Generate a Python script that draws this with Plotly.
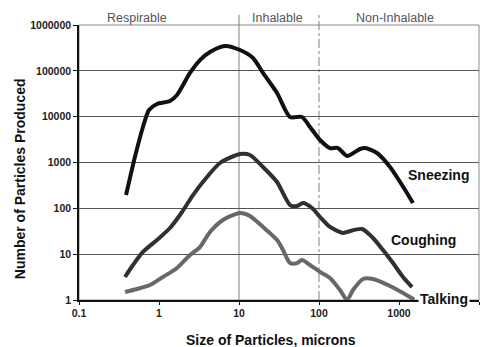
import math
import plotly.graph_objects as go

# ---------------- data ----------------
sneeze_x = [0.387, 0.50, 0.63, 0.75, 0.944, 1.37, 1.68, 2.44, 3.25, 4.34, 6.68, 10.3, 14.96,
            19.95, 29.9, 43.4, 61.3, 77.2, 103, 137, 173, 224, 325, 376, 531, 772, 1090, 1496]
sneeze_y = [195, 1320, 5960, 14000, 18900, 22000, 29700, 89800, 172000, 258000, 349000, 285000,
            191000, 89800, 32900, 9840, 9840, 5960, 3100, 2070, 2070, 1387, 1970, 2070, 1612,
            798, 323, 131]

cough_x = [0.376, 0.473, 0.63, 0.944, 1.37, 1.94, 2.66, 3.98, 5.79, 10.3, 13.7, 19.95, 29.9,
           43.4, 53.1, 63.1, 81.8, 103, 137, 200, 224, 345, 473, 631, 841, 1122, 1454]
cough_y = [3.18, 5.8, 11.2, 20.4, 37.2, 83.2, 195, 483, 975, 1535, 1460, 798, 376,
           118, 112, 131, 102, 64.7, 39.2, 29, 30.5, 35.4, 22.5, 12.3, 6.4, 3.18, 1.92]

talk_x = [0.376, 0.531, 0.772, 1.12, 1.68, 2.44, 3.25, 4.34, 6.31, 10.3, 13.7, 19.95, 29.9,
          35.5, 43.4, 53.1, 61.3, 77.2, 103, 137, 183, 224, 266, 355, 473, 772, 1122, 1550]
talk_y = [1.5, 1.74, 2.12, 3.18, 4.99, 9.6, 14.3, 30.5, 55.7, 79.1, 68.1, 39.2, 20.4,
          12.3, 6.4, 6.4, 7.46, 5.8, 4.08, 3.02, 1.65, 1.0, 1.65, 2.87, 2.87, 2.02, 1.42, 1.02]

series_names = ["Sneezing", "Coughing", "Talking"]
label_x = [3073, 1995, 3600]
label_y = [534, 20.4, 1.05]

x_ticks = [0.1, 1, 10, 100, 1000, 10000]
x_ticktext = ["0.1", "1", "10", "100", "1000", "10000"]
y_ticks = [1, 10, 100, 1000, 10000, 100000, 1000000]
y_ticktext = ["1", "10", "100", "1000", "10000", "100000", "1000000"]

region_names = ["Respirable", "Inhalable", "Non-Inhalable"]
region_label_x = [0.53, 29.9, 891]
region_bounds = [10, 100]

# ---------------- figure ----------------
FONT = "Arial, Liberation Sans, sans-serif"
colors = ["#111111", "#303030", "#686868"]

fig = go.Figure()
for xs, ys, c, n in zip([sneeze_x, cough_x, talk_x], [sneeze_y, cough_y, talk_y], colors, series_names):
    fig.add_trace(go.Scatter(x=xs, y=ys, mode="lines", name=n,
                             line=dict(color=c, width=4, shape="spline", smoothing=0.7),
                             showlegend=False, cliponaxis=False))

xmin, xmax = math.log10(x_ticks[0]), math.log10(x_ticks[-1])


def xfrac(v):
    return (math.log10(v) - xmin) / (xmax - xmin)


shapes = []
# frame (top + right grey)
shapes.append(dict(type="rect", xref="paper", yref="paper", x0=0, x1=1, y0=0, y1=1,
                   line=dict(color="#8a8a8a", width=1), layer="below"))
# region boundary lines
shapes.append(dict(type="line", xref="paper", yref="paper", x0=xfrac(region_bounds[0]),
                   x1=xfrac(region_bounds[0]), y0=0, y1=1.037,
                   line=dict(color="#808080", width=1), layer="below"))
shapes.append(dict(type="line", xref="paper", yref="paper", x0=xfrac(region_bounds[1]),
                   x1=xfrac(region_bounds[1]), y0=0, y1=1.037,
                   line=dict(color="#808080", width=1, dash="dashdot"), layer="below"))

annotations = []
for name, lx in zip(region_names, region_label_x):
    annotations.append(dict(x=math.log10(lx), y=1.025, xref="x", yref="paper", text=name,
                            showarrow=False, font=dict(family=FONT, size=12.5, color="#555555"),
                            xanchor="center", yanchor="middle"))
for name, lx, ly in zip(series_names, label_x, label_y):
    annotations.append(dict(x=math.log10(lx), y=math.log10(ly), xref="x", yref="y", text=name,
                            showarrow=False, font=dict(family=FONT, size=14, color="#111111",
                                                       weight="bold"),
                            bgcolor="white", borderpad=1,
                            xanchor="center", yanchor="middle"))
annotations.append(dict(x=0.48, y=-0.145, xref="paper", yref="paper",
                        text="Size of Particles, microns", showarrow=False,
                        font=dict(family=FONT, size=14, color="#111111", weight="bold"),
                        xanchor="center", yanchor="middle"))
annotations.append(dict(x=-0.147, y=0.44, xref="paper", yref="paper",
                        text="Number of Particles Produced", showarrow=False, textangle=-90,
                        font=dict(family=FONT, size=14, color="#111111", weight="bold"),
                        xanchor="center", yanchor="middle"))

# page body has an 8px default margin, so the figure is offset by 8px
fig.update_layout(
    width=485, height=339,
    margin=dict(l=71, r=14, t=17, b=47),
    paper_bgcolor="white", plot_bgcolor="white",
    font=dict(family=FONT, color="#222222"),
    shapes=shapes, annotations=annotations,
    xaxis=dict(type="log", range=[xmin, xmax], tickvals=x_ticks, ticktext=x_ticktext,
               showgrid=False, zeroline=False, showline=True, linecolor="#111111", linewidth=1.5,
               ticks="outside", ticklen=3, tickcolor="#111111",
               tickfont=dict(family=FONT, size=10.5, color="#222222", weight="bold")),
    yaxis=dict(type="log", range=[0, 6], tickvals=y_ticks, ticktext=y_ticktext,
               showgrid=True, gridcolor="#555555", gridwidth=1, zeroline=False,
               showline=True, linecolor="#111111", linewidth=1.5,
               ticks="outside", ticklen=4, tickcolor="#111111",
               tickfont=dict(family=FONT, size=10.5, color="#222222", weight="bold")),
)

fig.write_html("out.html")
